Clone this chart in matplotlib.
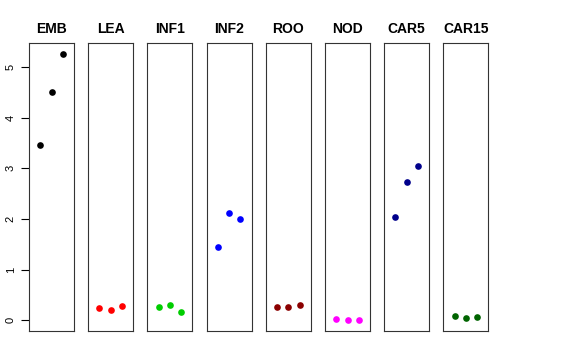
import numpy as np
import matplotlib.pyplot as plt

plt.rcParams['font.family'] = ['Liberation Sans', 'DejaVu Sans']

names = ['EMB', 'LEA', 'INF1', 'INF2', 'ROO', 'NOD', 'CAR5', 'CAR15']
colors = ['black', 'red', '#00CD00', 'blue', '#8B0000', 'magenta', '#00008B', '#006400']
values = [
    [3.46, 4.51, 5.26],
    [0.24, 0.21, 0.28],
    [0.27, 0.30, 0.16],
    [1.45, 2.11, 2.00],
    [0.26, 0.26, 0.31],
    [0.03, 0.00, 0.01],
    [2.03, 2.72, 3.04],
    [0.09, 0.05, 0.07],
]

W, H = 576, 360
fig = plt.figure(figsize=(W / 100, H / 100), dpi=100)

ymin, ymax = -0.21, 5.47
for i, (name, col, vals) in enumerate(zip(names, colors, values)):
    left = 29 + i * 59.2
    ax = fig.add_axes([left / W, 29 / H, 45 / W, 288 / H])
    ax.plot([1, 2, 3], vals, 'o', color=col, markersize=4.8, markeredgewidth=0)
    ax.set_xlim(0, 4)
    ax.set_ylim(ymin, ymax)
    ax.set_xticks([])
    ax.set_title(name, fontsize=10, fontweight='bold', pad=7)
    for s in ax.spines.values():
        s.set_linewidth(0.8)
        s.set_color('#333333')
    if i == 0:
        ax.set_yticks([0, 1, 2, 3, 4, 5])
        ax.tick_params(axis='y', length=6, width=0.8, labelsize=8, pad=3.5,
                       labelrotation=90)
        for lab in ax.get_yticklabels():
            lab.set_verticalalignment('center')
    else:
        ax.set_yticks([])

fig.savefig('out.png', dpi=100)
